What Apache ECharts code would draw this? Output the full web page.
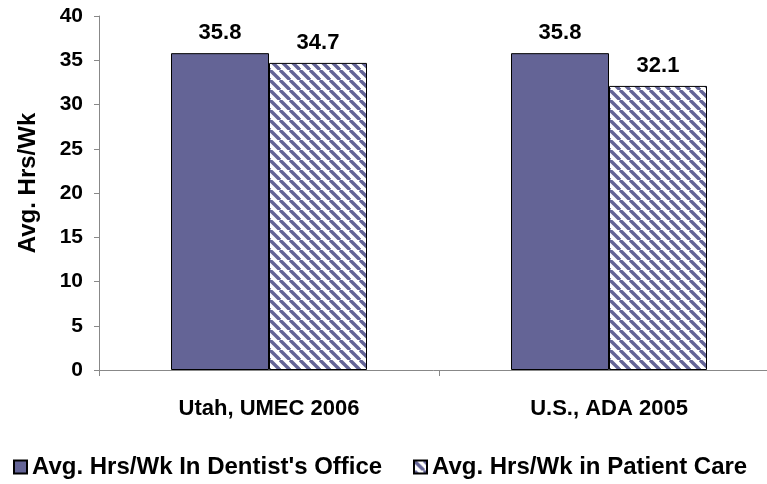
<!DOCTYPE html>
<html>
<head>
<meta charset="utf-8">
<script src="https://cdn.jsdelivr.net/npm/echarts@6/dist/echarts.min.js"></script>
<style>
    html, body { margin: 0; padding: 0; background: #fff; }
    #chart { width: 767px; height: 484px; }
</style>
</head>
<body>
<div id="chart"></div>
<script>
    const categories = ['Utah, UMEC 2006', 'U.S., ADA 2005'];
    const officeHours = [35.8, 35.8];
    const patientCareHours = [34.7, 32.1];
    const seriesNames = ["Avg. Hrs/Wk In Dentist's Office", 'Avg. Hrs/Wk in Patient Care'];

    function fnHatchPattern() {
        let size = 10;
        let canvas = document.createElement('canvas');
        canvas.width = size;
        canvas.height = size;
        let ctx = canvas.getContext('2d');
        ctx.fillStyle = '#fff';
        ctx.fillRect(0, 0, size, size);
        ctx.strokeStyle = '#646496';
        ctx.lineWidth = 3.4;
        // "\" stripes, drawn with wrap-around
        for (let offset = -size; offset <= size; offset += size) {
            ctx.beginPath();
            ctx.moveTo(offset, 0);
            ctx.lineTo(offset + size, size);
            ctx.stroke();
        }
        return canvas;
    }

    let myChart = echarts.init(document.getElementById('chart'));
    let fontFamily = 'Liberation Sans, Arial, sans-serif';
    let labelStyle = {
        show: true,
        position: 'top',
        distance: 9,
        color: '#000',
        fontFamily: fontFamily,
        fontWeight: 'bold',
        fontSize: 22
    };
    let legendText = { fontSize: 24, fontWeight: 'bold', color: '#000', fontFamily: fontFamily };

    myChart.setOption({
        animation: false,
        textStyle: { fontFamily: fontFamily },
        grid: {
            left: 99,
            width: 680,
            top: 16,
            bottom: 114,
            outerBoundsMode: 'none'
        },
        legend: [
            {
                bottom: 0,
                left: 8,
                icon: 'rect',
                itemWidth: 13,
                itemHeight: 13,
                textStyle: legendText,
                data: [seriesNames[0]]
            },
            {
                bottom: 0,
                left: 408,
                icon: 'rect',
                itemWidth: 13,
                itemHeight: 13,
                textStyle: legendText,
                data: [seriesNames[1]]
            }
        ],
        xAxis: {
            type: 'category',
            data: categories,
            axisLine: { lineStyle: { color: '#888' } },
            axisTick: { show: true, length: 6, lineStyle: { color: '#888' } },
            axisLabel: { color: '#000', fontSize: 22, fontWeight: 'bold', margin: 28 }
        },
        yAxis: {
            type: 'value',
            min: 0,
            max: 40,
            interval: 5,
            name: 'Avg. Hrs/Wk',
            nameLocation: 'middle',
            nameGap: 59,
            nameTextStyle: { color: '#000', fontSize: 24, fontWeight: 'bold', padding: [0, 0, 0, 20] },
            splitLine: { show: false },
            axisLine: { show: true, lineStyle: { color: '#888' } },
            axisTick: { show: true, length: 5, lineStyle: { color: '#888' } },
            axisLabel: { color: '#000', fontSize: 21, fontWeight: 'bold', margin: 16 }
        },
        series: [
            {
                name: seriesNames[0],
                type: 'bar',
                data: officeHours,
                barWidth: 98,
                barGap: '0%',
                itemStyle: { color: '#646496', borderColor: '#000', borderWidth: 1 },
                label: labelStyle
            },
            {
                name: seriesNames[1],
                type: 'bar',
                data: patientCareHours,
                barWidth: 98,
                barGap: '0%',
                itemStyle: {
                    color: { image: fnHatchPattern(), repeat: 'repeat' },
                    borderColor: '#000',
                    borderWidth: 1
                },
                label: labelStyle
            }
        ]
    });
</script>
</body>
</html>
